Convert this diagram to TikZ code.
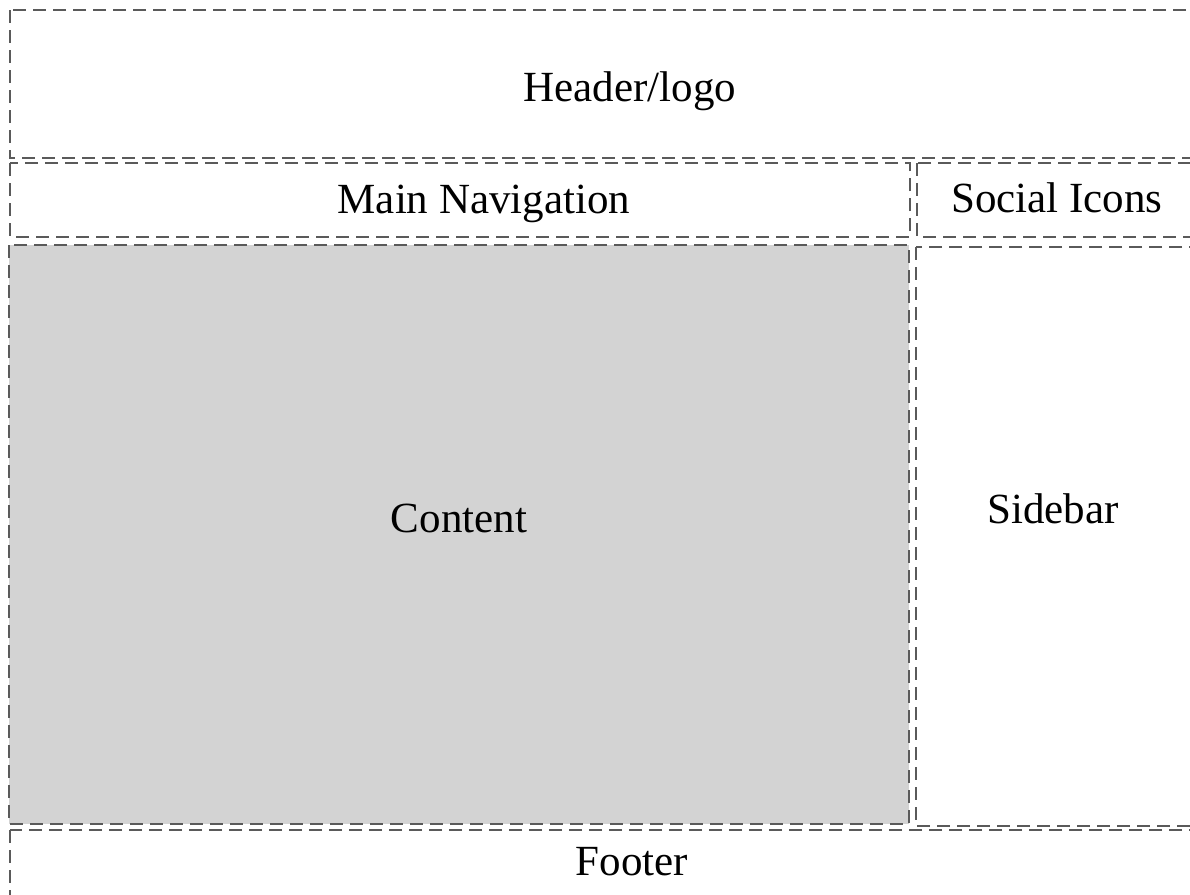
\documentclass[tikz,border=0pt]{standalone}
\usepackage{fontspec}
\setmainfont{Liberation Serif}
\usepackage{tikz}
\usetikzlibrary{positioning}
\definecolor{contentgray}{HTML}{D3D3D3}
\definecolor{linegray}{HTML}{5A5A5A}

\begin{document}
\begin{tikzpicture}[x=0.5pt,y=-0.5pt,
        box/.style={draw=linegray,line width=1pt,dash pattern=on 6.5pt off 3.5pt},
        lbl/.style={anchor=base,font=\fontsize{21.5}{24}\selectfont}]

        % Khung trang
        \useasboundingbox (0,0) rectangle (1190,895);
        \clip (0,0) rectangle (1190,895);

        % Các khối bố cục
        \draw[box] (10,10) rectangle (1250,158); % Header
        \draw[box] (10,163) rectangle (910,237); % Main Navigation
        \draw[box] (917,163) rectangle (1200,237); % Social Icons
        \draw[box,fill=contentgray] (9,245) rectangle (909,824); % Content
        \draw[box] (916,247) rectangle (1200,826); % Sidebar
        \draw[box] (10,830) rectangle (1256,930); % Footer

        % Nhãn
        \node[lbl] (header) at (630,101) {Header/logo};
        \node[lbl] (nav) at (484,213) {Main Navigation};
        \node[lbl] (social) at (1057,212) {Social Icons};
        \node[lbl] (content) at (459,532) {Content};
        \node[lbl] (sidebar) at (1053,523) {Sidebar};
        \node[lbl] (footer) at (632,875) {Footer};

        \end{tikzpicture}
\end{document}
